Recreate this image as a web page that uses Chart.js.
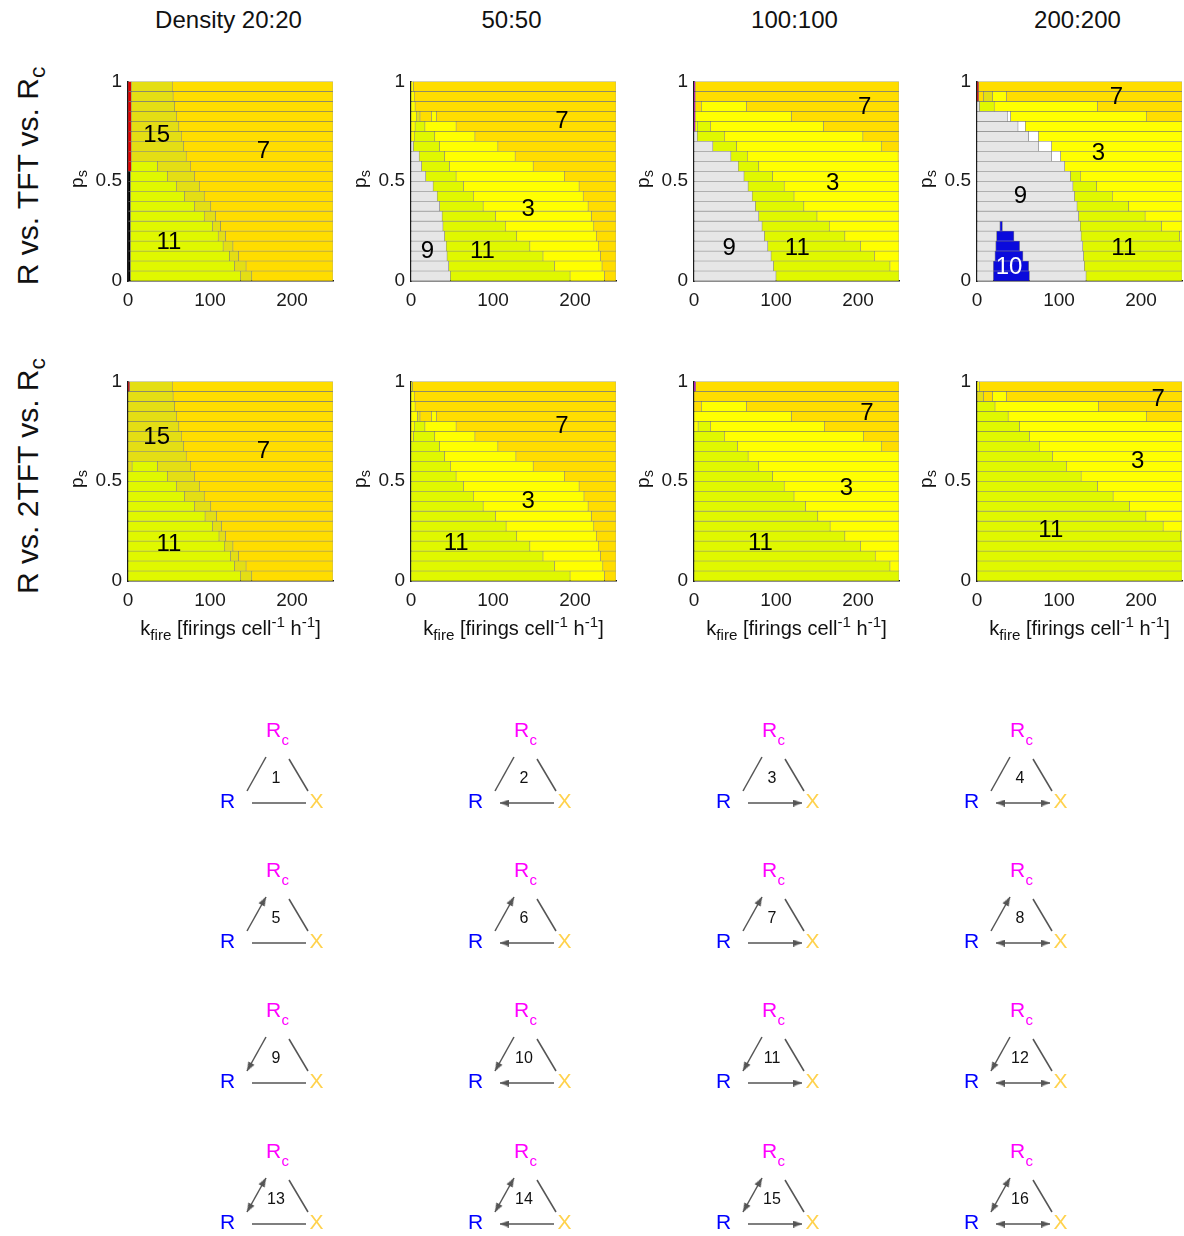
<!DOCTYPE html>
<html>
<head>
<meta charset="utf-8">
<title>Regime maps</title>
<script src="https://cdn.jsdelivr.net/npm/chart.js@4.4.1/dist/chart.umd.min.js"></script>
<style>
  html, body { margin: 0; padding: 0; background: #fff; }
  #page { position: relative; width: 1184px; height: 1236px; overflow: hidden;
          font-family: "Liberation Sans", Arial, Helvetica, sans-serif; color: #111; }
  #page canvas { position: absolute; }
  .txt { position: absolute; white-space: nowrap; z-index: 2; line-height: 1; }
  .coltitle { font-size: 24px; transform: translate(-50%, -50%); }
  .rowtitle { font-size: 30px; transform: translate(-50%, -50%) rotate(-90deg); }
  .ytitle { font-size: 19px; transform: translate(-50%, -50%) rotate(-90deg); }
  .xtitle { font-size: 20px; transform: translate(-50%, -50%); }
  sub, sup { font-size: 76%; line-height: 0; }
</style>
</head>
<body>
<div id="page"></div>
<script>
// ---- data ----
const K_MAX = 250;
const PS_CENTERS = [0.025, 0.075, 0.125, 0.175, 0.225, 0.275, 0.325, 0.375, 0.425, 0.475,
                    0.525, 0.575, 0.625, 0.675, 0.725, 0.775, 0.825, 0.875, 0.925, 0.975];
const DENSITIES = ['Density 20:20', '50:50', '100:100', '200:200'];
const COMPETITIONS = ['R vs. TFT vs. R<sub>c</sub>', 'R vs. 2TFT vs. R<sub>c</sub>'];

// regime -> colour (k/r/m/w = thin edge strips and blank cells)
const REGIME_COLORS = {
  3: '#FFFF00', 7: '#FFDD00', 9: '#E6E6E6', 10: '#0A0ADC', 11: '#E0F800', 15: '#E4DE14',
  w: '#FFFFFF', r: '#E00000', k: '#000000', m: '#E000E0'
};

// each row (bottom p_s row first): regime, end k, regime, end k, ..., last regime (runs to K_MAX)
const tft20 = [
  ['k', 3, 11, 137, 15, 151, 7], ['k', 3, 11, 130, 15, 144, 7], ['k', 3, 11, 124, 15, 135, 7],
  ['k', 3, 11, 116, 15, 128, 7], ['k', 3, 11, 110, 15, 119, 7], ['k', 3, 11, 103, 15, 113, 7],
  ['k', 3, 11, 93, 15, 107, 7], ['k', 3, 11, 81, 15, 101, 7], ['k', 3, 11, 69, 15, 93, 7],
  ['k', 3, 11, 59, 15, 87, 7], ['k', 3, 11, 48, 15, 81, 7], ['r', 4, 11, 36, 15, 76, 7],
  ['r', 4, 15, 71, 7], ['r', 4, 15, 68, 7], ['r', 4, 15, 65, 7], ['r', 4, 15, 62, 7],
  ['r', 4, 15, 59, 7], ['r', 4, 15, 57, 7], ['r', 4, 15, 55, 7], ['r', 4, 15, 54, 7]
];
const tft50 = [
  [9, 48, 11, 194, 3, 236, 7], [9, 46, 11, 175, 3, 233, 7], [9, 44, 11, 161, 3, 231, 7],
  [9, 43, 11, 145, 3, 229, 7], [9, 41, 11, 129, 3, 226, 7], [9, 39, 11, 115, 3, 223, 7],
  [9, 38, 11, 103, 3, 220, 7], [9, 35, 11, 88, 3, 216, 7], [9, 32, 11, 76, 3, 210, 7],
  [9, 27, 11, 64, 3, 205, 7], [9, 18, 11, 55, 3, 187, 7], [9, 13, 11, 47, 3, 149, 7],
  [9, 10, 11, 41, 3, 127, 7], [9, 3, 11, 35, 3, 106, 7], [3, 4, 11, 29, 3, 78, 7],
  [3, 5, 11, 17, 3, 55, 7], [3, 7, 15, 11, 7, 25, 3, 31, 7], [3, 5, 7], [3, 4, 7], [3, 3, 7]
];
const tft100 = [
  [9, 100, 11], [9, 97, 11, 239, 3], [9, 94, 11, 220, 3], [9, 90, 11, 203, 3],
  [9, 86, 11, 184, 3], [9, 83, 11, 165, 3], [9, 79, 11, 150, 3], [9, 75, 11, 134, 3],
  [9, 71, 11, 122, 3], [9, 66, 11, 110, 3], [9, 61, 11, 96, 3], [9, 54, 11, 79, 3],
  [9, 45, 11, 65, 3, 249, 7], [9, 23, 11, 52, 3, 229, 7], [9, 4, 11, 37, 3, 206, 7],
  ['m', 1.5, 3, 4, 11, 20, 3, 158, 7], ['m', 1.5, 3, 119, 7], ['m', 1.5, 7, 9, 3, 64, 7],
  ['m', 1.5, 7], ['m', 1.5, 7]
];
const tft200 = [
  [9, 20, 10, 64, 9, 133, 11], [9, 20, 10, 63, 9, 131, 11], [9, 22, 10, 56, 9, 130, 11],
  [9, 23, 10, 52, 9, 129, 11], [9, 24, 10, 45, 9, 127, 11, 247, 3], [9, 28, 10, 31, 9, 126, 11, 225, 3],
  [9, 124, 11, 205, 3], [9, 122, 11, 185, 3], [9, 119, 11, 165, 3], [9, 117, 11, 146, 3],
  [9, 114, 11, 126, 3], [9, 107, 3], [9, 91, 'w', 102, 3], [9, 75, 'w', 91, 3],
  [9, 63, 'w', 75, 3], [9, 50, 'w', 59, 3], [9, 37, 'w', 41, 3, 207, 7], [9, 3, 11, 21, 3, 147, 7],
  ['r', 2, 7, 8, 15, 19, 3, 36, 7], ['r', 2, 7]
];
const tft2_20 = [
  [11, 137, 15, 151, 7], [11, 130, 15, 144, 7], [11, 125, 15, 135, 7], [11, 118, 15, 128, 7],
  [11, 111, 15, 119, 7], [11, 103, 15, 114, 7], [11, 94, 15, 108, 7], [11, 81, 15, 101, 7],
  [11, 69, 15, 93, 7], [11, 59, 15, 87, 7], [11, 48, 15, 81, 7], [15, 5, 11, 36, 15, 76, 7],
  [15, 71, 7], [15, 68, 7], [15, 65, 7], [15, 62, 7], [15, 59, 7], [15, 57, 7], [15, 55, 7],
  ['r', 2, 15, 54, 7]
];
const tft2_50 = [
  [11, 194, 3, 236, 7], [11, 175, 3, 234, 7], [11, 161, 3, 231, 7], [11, 145, 3, 229, 7],
  [11, 129, 3, 226, 7], [11, 116, 3, 223, 7], [11, 103, 3, 220, 7], [11, 88, 3, 216, 7],
  [11, 76, 3, 211, 7], [11, 64, 3, 205, 7], [11, 55, 3, 187, 7], [11, 48, 3, 149, 7],
  [11, 41, 3, 128, 7], [11, 35, 3, 106, 7], [3, 3, 11, 29, 3, 78, 7], [3, 4, 11, 17, 3, 55, 7],
  [3, 8, 15, 11, 7, 25, 3, 31, 7], [3, 5, 7], [3, 4, 7], [3, 2, 7]
];
const tft2_100 = [
  [11], [11, 239, 3], [11, 221, 3], [11, 203, 3], [11, 184, 3], [11, 166, 3], [11, 151, 3],
  [11, 136, 3], [11, 122, 3], [11, 110, 3], [11, 96, 3], [11, 79, 3], [11, 66, 3],
  [11, 53, 3, 229, 7], [11, 37, 3, 207, 7], [3, 5, 11, 20, 3, 159, 7], [3, 119, 7],
  [7, 9, 3, 64, 7], [7], ['m', 2, 7]
];
const tft2_200 = [
  [11], [11], [11], [11], [11, 248, 3], [11, 227, 3], [11, 206, 3], [11, 186, 3],
  [11, 166, 3], [11, 147, 3], [11, 127, 3], [11, 109, 3], [11, 92, 3], [11, 76, 3],
  [11, 64, 3], [11, 52, 3], [11, 38, 3, 207, 7], [11, 22, 3, 148, 7],
  [15, 8, 7, 19, 3, 36, 7], [3, 3, 7]
];

// regime number written inside each map: text, k, p_s
const tft20Labels = [['15', 35, 0.73], ['7', 165, 0.65], ['11', 50, 0.195]];
const tft50Labels = [['7', 184, 0.80], ['3', 143, 0.36], ['9', 20, 0.15], ['11', 87, 0.15]];
const tft100Labels = [['7', 208, 0.87], ['3', 169, 0.49], ['9', 43, 0.165], ['11', 126, 0.165]];
const tft200Labels = [['7', 170, 0.92], ['3', 148, 0.64], ['9', 53, 0.425], ['11', 179, 0.165], ['10', 39, 0.07]];
const tft2_20Labels = [['15', 35, 0.72], ['7', 165, 0.65], ['11', 50, 0.185]];
const tft2_50Labels = [['7', 184, 0.775], ['3', 143, 0.40], ['11', 55, 0.19]];
const tft2_100Labels = [['7', 211, 0.84], ['3', 186, 0.465], ['11', 81, 0.19]];
const tft2_200Labels = [['7', 221, 0.91], ['3', 196, 0.60], ['11', 90, 0.255]];

// interaction motifs: R–X link by column, R–Rc link by row
const LINK_R_X = ['none', 'toR', 'toX', 'both'];
const LINK_R_RC = ['none', 'toRc', 'toR', 'both'];

// ---- layout ----
const FONT = '"Liberation Sans", Arial, Helvetica, sans-serif';
const page = document.getElementById('page');
const PLOT_LEFT = [128, 411, 694, 977];
const PLOT_TOP = [76, 376];
const PLOT_SIZE = 205;
const PAD_L = 58, PAD_T = 12, PAD_R = 8, PAD_B = 33;

function addText(cls, html, x, y) {
  const d = document.createElement('div');
  d.className = 'txt ' + cls;
  d.innerHTML = html;
  d.style.left = x + 'px';
  d.style.top = y + 'px';
  page.appendChild(d);
}

function addCanvas(left, top, w, h) {
  const c = document.createElement('canvas');
  c.width = w; c.height = h;
  c.style.left = left + 'px';
  c.style.top = top + 'px';
  page.appendChild(c);
  return c;
}

DENSITIES.forEach((t, c) => addText('coltitle', t, PLOT_LEFT[c] + PLOT_SIZE / 2 - 2, 20));
COMPETITIONS.forEach((t, r) => addText('rowtitle', t, 28, PLOT_TOP[r] + PLOT_SIZE / 2 - 3));

// numbers inside the maps
const regimeLabelPlugin = {
  id: 'regimeLabels',
  afterDatasetsDraw(chart, args, opts) {
    const { ctx, scales: { x, y } } = chart;
    ctx.save();
    ctx.font = '24px ' + FONT;
    ctx.textAlign = 'center';
    ctx.textBaseline = 'middle';
    opts.items.forEach(([t, k, p]) => {
      ctx.fillStyle = t === '10' ? '#FFFFFF' : '#000000';
      ctx.fillText(t, x.getPixelForValue(k), y.getPixelForValue(p));
    });
    ctx.restore();
  }
};

function makeMap(rows, labels, r, c) {
  const data = [], colors = [];
  rows.forEach((row, i) => {
    let start = 0;
    for (let j = 0; j < row.length; j += 2) {
      const end = j + 1 < row.length ? row[j + 1] : K_MAX;
      data.push({ y: PS_CENTERS[i], x: [start, end] });
      colors.push(REGIME_COLORS[row[j]]);
      start = end;
    }
  });

  const left = PLOT_LEFT[c], top = PLOT_TOP[r];
  const canvas = addCanvas(left - PAD_L, top - PAD_T, PAD_L + PLOT_SIZE + PAD_R, PAD_T + PLOT_SIZE + PAD_B);
  addText('ytitle', 'p<sub>s</sub>', left - 52, top + PLOT_SIZE / 2);
  if (r === 1) {
    addText('xtitle', 'k<sub>fire</sub> [firings cell<sup>-1</sup> h<sup>-1</sup>]', left + PLOT_SIZE / 2, top + PLOT_SIZE + 47);
  }

  const tickFont = { family: FONT, size: 19 };
  new Chart(canvas, {
    type: 'bar',
    data: {
      datasets: [{
        data: data,
        backgroundColor: colors,
        borderColor: 'rgba(60,60,60,0.5)',
        borderWidth: 0.6,
        borderSkipped: false,
        barPercentage: 1,
        categoryPercentage: 1
      }]
    },
    options: {
      indexAxis: 'y',
      responsive: false,
      animation: false,
      events: [],
      layout: { padding: { top: PAD_T, right: PAD_R, left: 0, bottom: 0 } },
      scales: {
        x: {
          type: 'linear', min: 0, max: K_MAX, z: 1,
          grid: { display: false, drawTicks: false },
          border: { display: true, color: '#1a1a1a', width: 1.6 },
          ticks: { stepSize: 100, includeBounds: false, padding: 8, color: '#1a1a1a', font: tickFont },
          afterFit: s => { s.height = PAD_B; }
        },
        y: {
          type: 'linear', min: 0, max: 1, z: 1, offset: false,
          grid: { display: false, drawTicks: false, offset: false },
          border: { display: true, color: '#1a1a1a', width: 1.6 },
          ticks: { stepSize: 0.5, padding: 6, color: '#1a1a1a', font: tickFont, callback: v => String(v) },
          afterFit: s => { s.width = PAD_L; }
        }
      },
      plugins: {
        legend: { display: false },
        tooltip: { enabled: false },
        regimeLabels: { items: labels }
      }
    },
    plugins: [regimeLabelPlugin]
  });
}

const PANELS = [
  [tft20, tft20Labels], [tft50, tft50Labels], [tft100, tft100Labels], [tft200, tft200Labels],
  [tft2_20, tft2_20Labels], [tft2_50, tft2_50Labels], [tft2_100, tft2_100Labels], [tft2_200, tft2_200Labels]
];
PANELS.forEach(([rows, labels], i) => makeMap(rows, labels, Math.floor(i / 4), i % 4));

// ---- motif triangles ----
const TRI_X = [276, 524, 772, 1020];
const TRI_Y = [779, 919, 1059, 1200];
const TRI_TOP = 690, TRI_H = 1236 - 690;

// arrow head image: tip at centre, pointing up
const ARROW = document.createElement('canvas');
ARROW.width = 7; ARROW.height = 18;
(function () {
  const a = ARROW.getContext('2d');
  a.fillStyle = '#555555';
  a.beginPath();
  a.moveTo(3.5, 9);
  a.lineTo(7, 18);
  a.lineTo(0, 18);
  a.closePath();
  a.fill();
})();

function edge(p0, p1, head0, head1) {
  const ang = (a, b) => Math.atan2(b.x - a.x, -(b.y - a.y)) * 180 / Math.PI;
  return {
    data: [p0, p1],
    showLine: true,
    borderColor: '#555555',
    borderWidth: 1.5,
    pointStyle: ARROW,
    pointRadius: [head0 ? 5 : 0, head1 ? 5 : 0],
    pointRotation: [ang(p1, p0), ang(p0, p1)]
  };
}

const triDatasets = [];
TRI_Y.forEach((cy, r) => {
  TRI_X.forEach((cx, c) => {
    const P = (dx, dy) => ({ x: cx + dx, y: cy + dy });
    const lrc = LINK_R_RC[r], lrx = LINK_R_X[c];
    triDatasets.push(edge(P(-29, 12), P(-10, -22), lrc === 'toR' || lrc === 'both', lrc === 'toRc' || lrc === 'both'));
    triDatasets.push(edge(P(13, -20), P(32, 12), false, false));
    triDatasets.push(edge(P(-24, 24), P(30, 24), lrx === 'toR' || lrx === 'both', lrx === 'toX' || lrx === 'both'));
  });
});

const triTextPlugin = {
  id: 'triText',
  afterDatasetsDraw(chart) {
    const { ctx, scales: { x, y } } = chart;
    ctx.save();
    ctx.textBaseline = 'middle';
    TRI_Y.forEach((cy, r) => {
      TRI_X.forEach((cx, c) => {
        const px = v => x.getPixelForValue(v), py = v => y.getPixelForValue(v);
        ctx.textAlign = 'center';
        ctx.font = '21px ' + FONT;
        ctx.fillStyle = '#FF00FF';
        ctx.fillText('R', px(cx - 2.5), py(cy - 48));
        ctx.textAlign = 'left';
        ctx.font = '15px ' + FONT;
        ctx.fillText('c', px(cx + 5.5), py(cy - 38));
        ctx.textAlign = 'center';
        ctx.font = '21px ' + FONT;
        ctx.fillStyle = '#0000FF';
        ctx.fillText('R', px(cx - 48.5), py(cy + 23));
        ctx.fillStyle = '#FFD24D';
        ctx.fillText('X', px(cx + 40.5), py(cy + 23));
        ctx.font = '16px ' + FONT;
        ctx.fillStyle = '#111111';
        ctx.fillText(String(r * 4 + c + 1), px(cx), py(cy));
      });
    });
    ctx.restore();
  }
};

new Chart(addCanvas(0, TRI_TOP, 1184, TRI_H), {
  type: 'scatter',
  data: { datasets: triDatasets },
  options: {
    responsive: false,
    animation: false,
    events: [],
    layout: { padding: 0, autoPadding: false },
    scales: {
      x: { type: 'linear', min: 0, max: 1184, display: false },
      y: { type: 'linear', min: TRI_TOP, max: 1236, reverse: true, display: false }
    },
    plugins: { legend: { display: false }, tooltip: { enabled: false } }
  },
  plugins: [triTextPlugin]
});
</script>
</body>
</html>
